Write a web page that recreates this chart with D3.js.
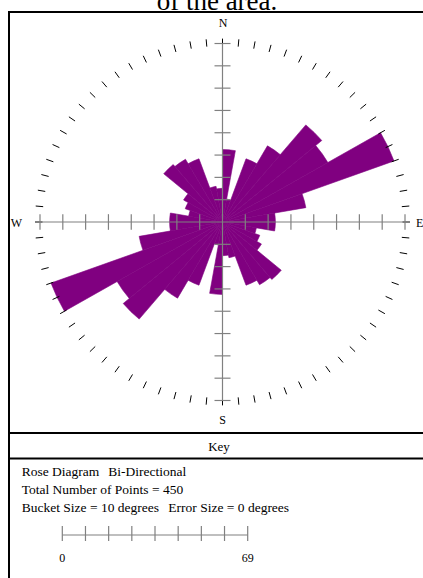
<!DOCTYPE html>
<html>
<head>
<meta charset="utf-8">
<script src="https://cdn.jsdelivr.net/npm/d3@7"></script>
<style>
  html, body { margin: 0; padding: 0; background: #fff; }
  svg { display: block; }
  text { font-family: "Liberation Serif", "Times New Roman", serif; fill: #000; }
</style>
</head>
<body>
<script>
// Bucket start bearings (degrees clockwise from north), 0–180 half of the rose
const bucketStarts = [0, 10, 20, 30, 40, 50, 60, 70, 80, 90, 100, 110, 120, 130, 140, 150, 160, 170];
// Point counts per bucket; bi-directional, so each is repeated at bearing + 180
const bucketCounts = [28, 9, 26, 34, 49, 46, 69, 32, 20, 20, 13, 15, 17, 29, 28, 26, 14, 13];
const bucketSize = 10;
const scaleMax = 69;
const compassLabels = ["N", "E", "S", "W"];
const keyTitle = "Key";
const keyLines = [
  ["Rose Diagram", "Bi-Directional"],
  ["Total Number of Points = 450"],
  ["Bucket Size = 10 degrees", "Error Size = 0 degrees"]
];
const scaleLabels = ["0", "69"];

const W = 423, H = 578;
const cx = 222.5, cy = 222;
const R = 182.5;          // radius of the scale maximum
const yStretch = 0.978;   // plot area is drawn slightly flattened vertically
const purple = "#800080";
const axisGrey = "#808080";

const svg = d3.select("body").append("svg")
  .attr("width", W).attr("height", H);

svg.append("rect").attr("width", W).attr("height", H).attr("fill", "#fff");

// Title (continues above the visible area)
svg.append("text")
  .attr("x", 217).attr("y", 10)
  .attr("text-anchor", "middle")
  .style("font-size", "27px")
  .text("of the area.");

// Frame and key separators
svg.append("rect")
  .attr("x", 9).attr("y", 12)
  .attr("width", 440).attr("height", 600)
  .attr("fill", "none").attr("stroke", "#000").attr("stroke-width", 2);
svg.append("line").attr("x1", 9).attr("x2", W + 10).attr("y1", 433).attr("y2", 433)
  .attr("stroke", "#000").attr("stroke-width", 2);
svg.append("line").attr("x1", 9).attr("x2", W + 10).attr("y1", 458.5).attr("y2", 458.5)
  .attr("stroke", "#000").attr("stroke-width", 2);

// Rose plot
const r = d3.scaleLinear().domain([0, scaleMax]).range([0, R]);
const plot = svg.append("g")
  .attr("transform", `translate(${cx},${cy}) scale(1,${yStretch})`);

const buckets = [];
bucketStarts.forEach((b, i) => {
  buckets.push({ start: b, count: bucketCounts[i] });
  buckets.push({ start: b + 180, count: bucketCounts[i] });
});

const arc = d3.arc()
  .innerRadius(0)
  .outerRadius(d => r(d.count))
  .startAngle(d => d.start * Math.PI / 180)
  .endAngle(d => (d.start + bucketSize) * Math.PI / 180);

plot.selectAll("path.bucket")
  .data(buckets)
  .join("path")
  .attr("class", "bucket")
  .attr("d", arc)
  .attr("fill", purple)
  .attr("stroke", purple)
  .attr("stroke-width", 0.6)
  .attr("stroke-linejoin", "miter");

// Outer bearing marks every 5 degrees
const marks = d3.range(0, 360, 5);
plot.selectAll("line.mark")
  .data(marks)
  .join("line")
  .attr("class", "mark")
  .attr("x1", d => 180 * Math.sin(d * Math.PI / 180))
  .attr("y1", d => -180 * Math.cos(d * Math.PI / 180))
  .attr("x2", d => 187.5 * Math.sin(d * Math.PI / 180))
  .attr("y2", d => -187.5 * Math.cos(d * Math.PI / 180))
  .attr("stroke", "#000").attr("stroke-width", 1);

// Cross axes with scale ticks
const axisTicks = d3.range(1, 9).map(i => i * scaleMax / 8);
plot.append("line").attr("x1", -R).attr("x2", R).attr("y1", 0).attr("y2", 0)
  .attr("stroke", axisGrey).attr("stroke-width", 1.2);
plot.append("line").attr("x1", 0).attr("x2", 0).attr("y1", -R).attr("y2", R)
  .attr("stroke", axisGrey).attr("stroke-width", 1.2);
[-1, 1].forEach(s => {
  plot.selectAll(null).data(axisTicks).join("line")
    .attr("x1", d => s * r(d)).attr("x2", d => s * r(d))
    .attr("y1", -8).attr("y2", 8)
    .attr("stroke", axisGrey).attr("stroke-width", 1.2);
  plot.selectAll(null).data(axisTicks).join("line")
    .attr("y1", d => s * r(d)).attr("y2", d => s * r(d))
    .attr("x1", -8).attr("x2", 8)
    .attr("stroke", axisGrey).attr("stroke-width", 1.2);
});

// Compass labels
const labelPos = {
  N: { x: 223, y: 27, anchor: "middle" },
  E: { x: 416, y: 227, anchor: "start" },
  S: { x: 222.5, y: 424, anchor: "middle" },
  W: { x: 22, y: 227, anchor: "end" }
};
compassLabels.forEach(l => {
  svg.append("text")
    .attr("x", labelPos[l].x).attr("y", labelPos[l].y)
    .attr("text-anchor", labelPos[l].anchor)
    .style("font-size", "12px")
    .text(l);
});

// Key
svg.append("text")
  .attr("x", 219).attr("y", 450.5)
  .attr("text-anchor", "middle")
  .style("font-size", "13px")
  .text(keyTitle);

const keyCols = [21.7, 108.3];
const keyColsLast = [21.7, 168.3];
keyLines.forEach((parts, i) => {
  parts.forEach((p, j) => {
    svg.append("text")
      .attr("x", i === 2 ? keyColsLast[j] : keyCols[j])
      .attr("y", 476 + i * 18)
      .style("font-size", "13.5px")
      .text(p);
  });
});

// Scale bar
const sb = d3.scaleLinear().domain([0, scaleMax]).range([62.3, 247.7]);
const sbY = 535;
svg.append("line").attr("x1", sb(0)).attr("x2", sb(scaleMax)).attr("y1", sbY).attr("y2", sbY)
  .attr("stroke", axisGrey).attr("stroke-width", 1.2);
svg.selectAll("line.sbtick")
  .data(d3.range(0, 9).map(i => i * scaleMax / 8))
  .join("line")
  .attr("class", "sbtick")
  .attr("x1", d => sb(d)).attr("x2", d => sb(d))
  .attr("y1", sbY - 9).attr("y2", sbY + 6)
  .attr("stroke", axisGrey).attr("stroke-width", 1.2);
svg.selectAll("text.sblabel")
  .data([0, scaleMax])
  .join("text")
  .attr("class", "sblabel")
  .attr("x", d => sb(d)).attr("y", 562)
  .attr("text-anchor", "middle")
  .style("font-size", "12px")
  .text((d, i) => scaleLabels[i]);
</script>
</body>
</html>
